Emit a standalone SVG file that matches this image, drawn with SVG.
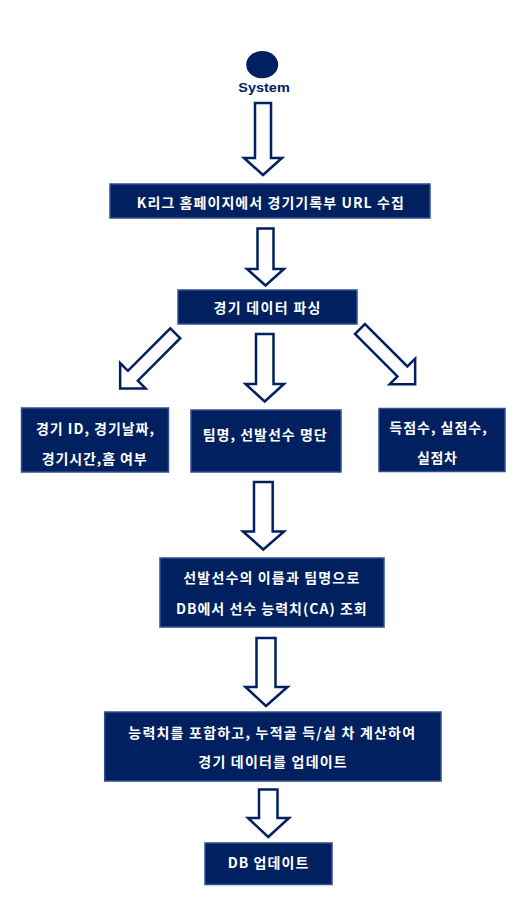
<svg xmlns="http://www.w3.org/2000/svg" width="524" height="907" viewBox="0 0 524 907">
<style>
.box{fill:#002060;stroke:#2f4f8f;stroke-width:1.5}
.arr{fill:#ffffff;stroke:#002060;stroke-width:2.5;stroke-linejoin:miter}
.t{font-family:"Noto Sans CJK KR","Liberation Sans",sans-serif;font-weight:bold;font-size:14px;fill:#ffffff;text-anchor:middle}
.sys{font-family:"Liberation Sans","Noto Sans CJK KR",sans-serif;font-weight:bold;font-size:13px;fill:#002060;text-anchor:middle}
</style>
<rect width="524" height="907" fill="#ffffff"/>
<g id="system">
<ellipse cx="262.2" cy="64.7" rx="16" ry="13.6" fill="#002060"/>
<text class="sys" x="264" y="92" textLength="51.5" lengthAdjust="spacingAndGlyphs">System</text>
</g>
<g id="connectors">
<path class="arr" d="M255,103 H271 V158 H282 L263,175 L244,158 H255 Z"/>
<path class="arr" d="M257.5,228.5 H273.5 V269 H284 L265.5,285.5 L247,269 H257.5 Z"/>
<path class="arr" transform="translate(175.3,333.3) rotate(45)" d="M-7,0 H7 V60 H18 L0,78 L-18,60 H-7 Z"/>
<path class="arr" d="M256,334 H273.5 V384 H284 L264.7,401.5 L245.5,384 H256 Z"/>
<path class="arr" transform="translate(360,329) rotate(-45)" d="M-7,0 H7 V60 H18 L0,78 L-18,60 H-7 Z"/>
<path class="arr" d="M254,482 H272.7 V531.5 H284 L263.3,549.5 L243,531.5 H254 Z"/>
<path class="arr" d="M256.5,638 H275.5 V687 H287.5 L266,706 L245.5,687 H256.5 Z"/>
<path class="arr" d="M259,789.5 H277.5 V818 H289 L268.2,837 L248,818 H259 Z"/>
</g>
<g id="collect-url">
<rect class="box" x="110" y="184" width="320" height="34"/>
<text class="t" x="270.3" y="208" textLength="267" lengthAdjust="spacing">K리그 홈페이지에서 경기기록부 URL 수집</text>
</g>
<g id="parse">
<rect class="box" x="178" y="290" width="179" height="34"/>
<text class="t" x="267" y="313" textLength="107" lengthAdjust="spacing">경기 데이터 파싱</text>
</g>
<g id="match-info">
<rect class="box" x="21.5" y="408" width="147" height="64"/>
<text class="t" x="95" y="433.5" textLength="118" lengthAdjust="spacing">경기 ID, 경기날짜,</text>
<text class="t" x="94.2" y="463.5" textLength="105" lengthAdjust="spacing">경기시간,홈 여부</text>
</g>
<g id="lineup">
<rect class="box" x="191" y="410" width="150" height="62"/>
<text class="t" x="264.7" y="440" textLength="124" lengthAdjust="spacing">팀명, 선발선수 명단</text>
</g>
<g id="score">
<rect class="box" x="379" y="408.5" width="126" height="63"/>
<text class="t" x="438" y="433" textLength="97.4" lengthAdjust="spacing">득점수, 실점수,</text>
<text class="t" x="437" y="463" textLength="40" lengthAdjust="spacing">실점차</text>
</g>
<g id="lookup-ca">
<rect class="box" x="160" y="558" width="224" height="69"/>
<text class="t" x="271.3" y="582.5" textLength="176" lengthAdjust="spacing">선발선수의 이름과 팀명으로</text>
<text class="t" x="271.3" y="613.5" textLength="190.7" lengthAdjust="spacing">DB에서 선수 능력치(CA) 조회</text>
</g>
<g id="update-match">
<rect class="box" x="104.7" y="712" width="336.3" height="69"/>
<text class="t" x="271.7" y="737.5" textLength="286.7" lengthAdjust="spacing">능력치를 포함하고, 누적골 득/실 차 계산하여</text>
<text class="t" x="272.5" y="766.5" textLength="148.4" lengthAdjust="spacing">경기 데이터를 업데이트</text>
</g>
<g id="db-update">
<rect class="box" x="205" y="843" width="127" height="41.5"/>
<text class="t" x="268" y="867.5" textLength="80.7" lengthAdjust="spacing">DB 업데이트</text>
</g>
</svg>
